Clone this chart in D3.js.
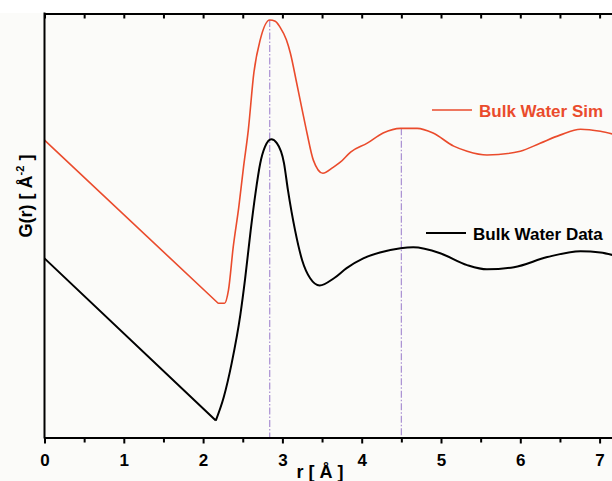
<!DOCTYPE html>
<html lang="en">
<head>
	<meta charset="utf-8">
	<title>G(r) Bulk Water</title>
	<script src="https://d3js.org/d3.v7.min.js" charset="utf-8"></script>
	<style>
		body { margin: 0; background: #fbfbf9; }
		text { font-family: "Liberation Sans", Arial, sans-serif; font-weight: bold; }
	</style>
</head>
<body>
	<script>
		// r in Angstrom, G(r) in arbitrary units
		var simR = [0, 2.19, 2.27, 2.32, 2.38, 2.45, 2.51, 2.57, 2.64, 2.72, 2.84, 2.91, 2.97, 3.05, 3.10, 3.18, 3.25, 3.31, 3.39, 3.51, 3.64, 3.73, 3.86, 4.07, 4.27, 4.49, 4.70, 4.90, 5.16, 5.33, 5.58, 6.00, 6.25, 6.50, 6.76, 7.01, 7.20];
		var simG = [7.02, 3.17, 3.17, 3.48, 4.50, 5.44, 6.39, 7.26, 8.61, 9.39, 9.86, 9.83, 9.69, 9.39, 9.08, 8.37, 7.73, 7.19, 6.55, 6.24, 6.38, 6.50, 6.74, 6.95, 7.19, 7.30, 7.30, 7.19, 6.88, 6.76, 6.67, 6.76, 6.95, 7.14, 7.28, 7.23, 7.15];

		var dataR = [0, 2.16, 2.26, 2.36, 2.47, 2.53, 2.60, 2.66, 2.72, 2.78, 2.86, 2.93, 3.02, 3.07, 3.16, 3.25, 3.35, 3.47, 3.65, 3.81, 4.02, 4.23, 4.49, 4.65, 4.99, 5.33, 5.58, 5.92, 6.34, 6.76, 7.01, 7.20];
		var dataG = [4.23, 0.40, 0.95, 1.75, 2.90, 3.75, 4.89, 5.76, 6.47, 6.86, 7.04, 6.95, 6.48, 5.84, 4.89, 4.18, 3.76, 3.59, 3.76, 4.00, 4.23, 4.37, 4.47, 4.49, 4.35, 4.07, 3.97, 4.02, 4.26, 4.40, 4.37, 4.29];

		var seriesNames = ["Bulk Water Sim", "Bulk Water Data"];
		var xTicks = [0, 1, 2, 3, 4, 5, 6, 7];
		var peakR = [2.84, 4.50];      // dash-dot markers
		var peakTop = [9.86, 7.30];    // where the markers start (sim curve)

		var w = 612;
		var h = 481;
		var plotLeft = 44.5, plotTop = 14, plotBottom = 437.5;

		var svg = d3.select("body")
			.append("svg")
			.attr("width", w)
			.attr("height", h);

		svg.append("rect").attr("width", w).attr("height", 13).attr("fill", "#ffffff");

		var x = d3.scaleLinear().domain([0, 7.2]).range([plotLeft, plotLeft + 7.2 * 79.3]);
		var y = d3.scaleLinear().domain([0, 10]).range([plotBottom, plotTop]);

		var straight = d3.line()
			.x(function(d) { return x(d[0]); })
			.y(function(d) { return y(d[1]); });
		var smooth = d3.line()
			.x(function(d) { return x(d[0]); })
			.y(function(d) { return y(d[1]); })
			.curve(d3.curveMonotoneX);

		// dash-dot markers at the peaks
		svg.selectAll(".peak")
			.data(peakR)
			.enter()
			.append("line")
			.attr("class", "peak")
			.attr("x1", function(d) { return x(d); })
			.attr("x2", function(d) { return x(d); })
			.attr("y1", function(d, i) { return y(peakTop[i]); })
			.attr("y2", plotBottom)
			.attr("stroke", "#a88fd2")
			.attr("stroke-width", 1.2)
			.attr("stroke-dasharray", "7,2,1.5,2");

		var series = [
			{ name: seriesNames[0], r: simR, g: simG, color: "#ea4b2c", width: 1.6 },
			{ name: seriesNames[1], r: dataR, g: dataG, color: "#000000", width: 2 }
		];

		// straight ramp down to the first minimum, smooth curve after it
		function curvePath(d) {
			var pts = d3.zip(d.r, d.g);
			var k = d3.minIndex(d.g);
			return straight(pts.slice(0, k + 1)) + smooth(pts.slice(k));
		}

		svg.selectAll(".curve")
			.data(series)
			.enter()
			.append("path")
			.attr("class", "curve")
			.attr("d", curvePath)
			.attr("fill", "none")
			.attr("stroke-linejoin", "round")
			.attr("stroke", function(d) { return d.color; })
			.attr("stroke-width", function(d) { return d.width; });

		// axes
		var minor = d3.range(0.5, 7.2, 1);

		var bottomAxis = svg.append("g")
			.attr("transform", "translate(0," + plotBottom + ")")
			.call(d3.axisBottom(x).tickValues(xTicks).tickSize(6).tickSizeOuter(0).tickFormat(d3.format("d")));
		bottomAxis.select(".domain").attr("stroke-width", 2);
		bottomAxis.selectAll(".tick line").attr("stroke-width", 2);
		bottomAxis.selectAll(".tick text")
			.attr("y", 28.5)
			.attr("dy", null)
			.attr("font-size", 17)
			.attr("font-family", null);

		var bottomMinor = svg.append("g")
			.attr("transform", "translate(0," + plotBottom + ")")
			.call(d3.axisBottom(x).tickValues(minor).tickSize(5).tickFormat(""));
		bottomMinor.select(".domain").remove();
		bottomMinor.selectAll(".tick line").attr("stroke-width", 2);

		var topAxis = svg.append("g")
			.attr("transform", "translate(0," + (plotTop - 0.5) + ")")
			.call(d3.axisBottom(x).tickValues(d3.merge([xTicks, minor])).tickSize(5).tickSizeOuter(0).tickFormat(""));
		topAxis.select(".domain").attr("stroke-width", 2);
		topAxis.selectAll(".tick line").attr("stroke-width", 2);

		svg.append("line")
			.attr("x1", plotLeft).attr("x2", plotLeft)
			.attr("y1", plotTop - 1.5).attr("y2", plotBottom + 1)
			.attr("stroke", "black")
			.attr("stroke-width", 2);

		// axis titles
		svg.append("text")
			.attr("x", 320)
			.attr("y", 478)
			.attr("text-anchor", "middle")
			.attr("font-size", 18)
			.text("r [ Å ]");

		var yTitle = svg.append("text")
			.attr("transform", "translate(32,196) rotate(-90)")
			.attr("text-anchor", "middle")
			.attr("font-size", 18);
		yTitle.append("tspan").text("G(r) [ Å");
		yTitle.append("tspan").attr("font-size", 11).attr("dy", -8).text("-2");
		yTitle.append("tspan").attr("dy", 8).text(" ]");

		// legend
		var legendPos = [[432, 110], [426, 233]];
		var leg = svg.selectAll(".leg")
			.data(series)
			.enter()
			.append("g")
			.attr("class", "leg")
			.attr("transform", function(d, i) { return "translate(" + legendPos[i][0] + "," + legendPos[i][1] + ")"; });
		leg.append("line")
			.attr("x1", 0).attr("x2", 40)
			.attr("stroke", function(d) { return d.color; })
			.attr("stroke-width", function(d) { return d.width; });
		leg.append("text")
			.attr("x", 47)
			.attr("y", 6.5)
			.attr("font-size", 17)
			.attr("fill", function(d) { return d.color; })
			.text(function(d) { return d.name; });
	</script>
</body>
</html>
